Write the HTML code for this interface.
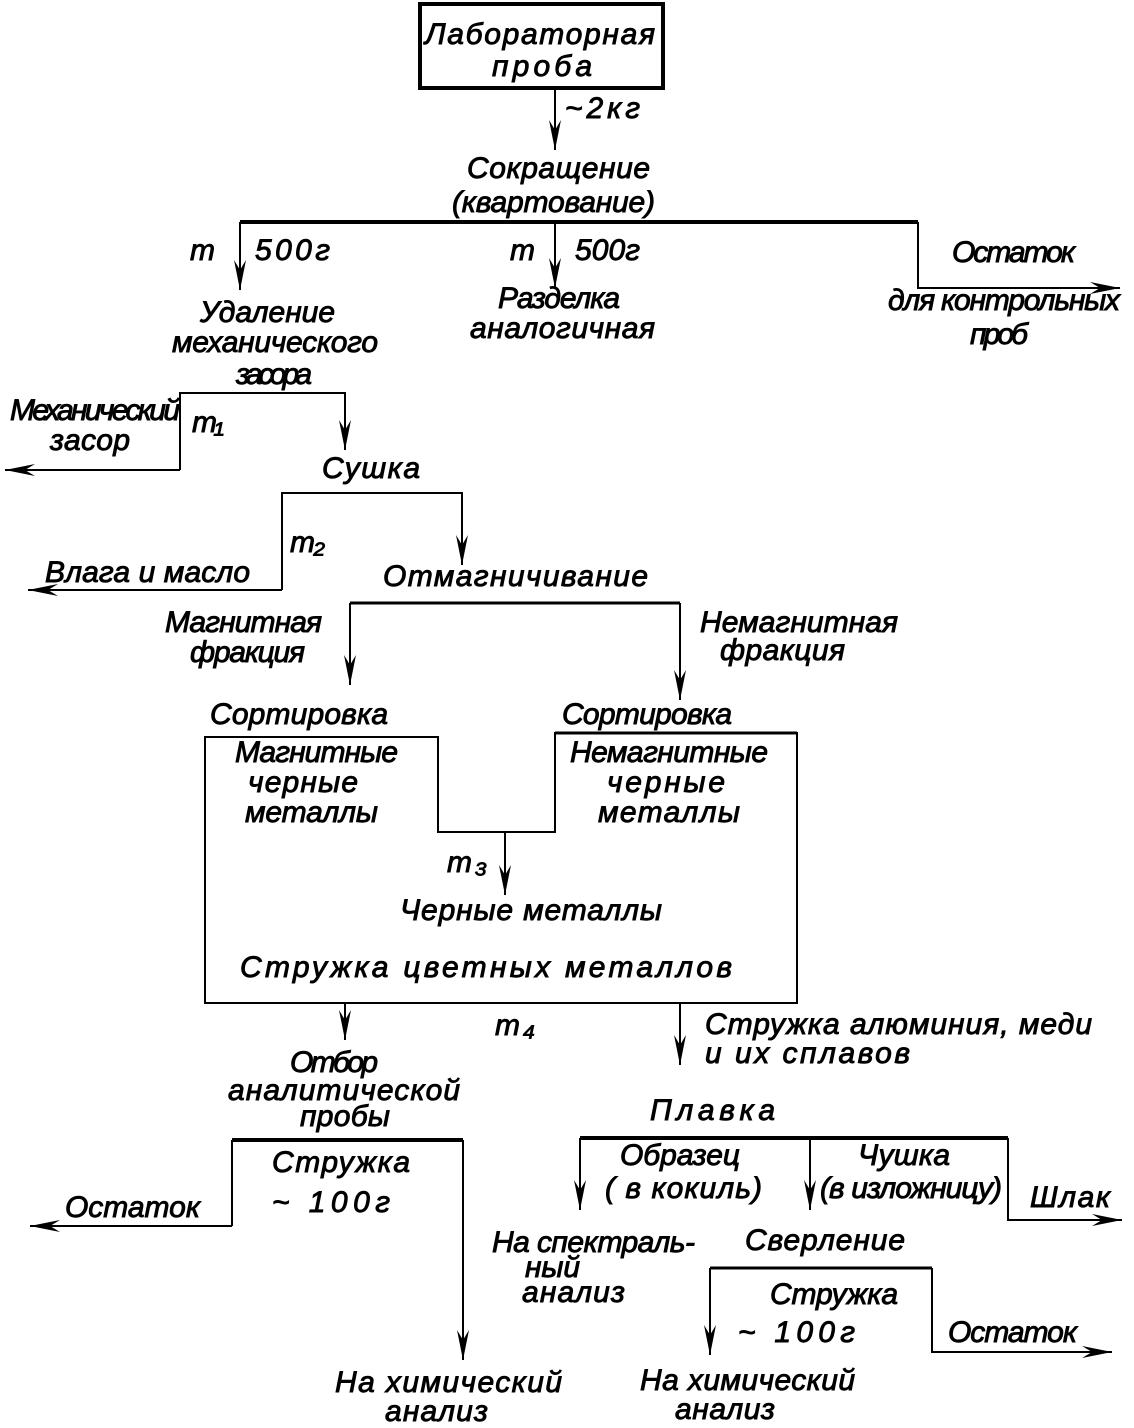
<!DOCTYPE html>
<html><head><meta charset="utf-8"><style>
html,body{margin:0;padding:0;background:#fff;}
svg{display:block;}
text{font-family:"Liberation Sans","DejaVu Sans",sans-serif;font-style:italic;font-size:30px;fill:#000;stroke:#000;stroke-width:0.9;}
</style></head><body>
<svg width="1134" height="1428" viewBox="0 0 1134 1428" xmlns="http://www.w3.org/2000/svg">
<defs>
<marker id="a" markerWidth="12" markerHeight="30" refX="6" refY="30" orient="0" markerUnits="userSpaceOnUse" viewBox="0 0 12 30">
<path d="M0,0 L6,30 L12,0 L6,10 Z" fill="#000"/>
</marker>
<marker id="r" markerWidth="30" markerHeight="12" refX="30" refY="6" orient="0" markerUnits="userSpaceOnUse" viewBox="0 0 30 12">
<path d="M0,0 L30,6 L0,12 L10,6 Z" fill="#000"/>
</marker>
<marker id="l" markerWidth="30" markerHeight="12" refX="0" refY="6" orient="0" markerUnits="userSpaceOnUse" viewBox="0 0 30 12">
<path d="M30,0 L0,6 L30,12 L20,6 Z" fill="#000"/>
</marker>
</defs>
<g fill="none" stroke="#000" stroke-width="2">
<rect x="420" y="4" width="243" height="84" stroke-width="4"/>
<line x1="555" y1="90" x2="555" y2="150" marker-end="url(#a)"/>
<line x1="240" y1="222" x2="918" y2="222" stroke-width="4"/>
<line x1="240" y1="222" x2="240" y2="290" marker-end="url(#a)"/>
<line x1="555" y1="222" x2="555" y2="288" marker-end="url(#a)"/>
<polyline points="918,222 918,288 1120,288" marker-end="url(#r)"/>
<polyline points="180,470 180,393 345,393 345,450" marker-end="url(#a)"/>
<line x1="180" y1="470" x2="5" y2="470" marker-end="url(#l)"/>
<polyline points="282,590 282,493 462,493 462,565" marker-end="url(#a)"/>
<line x1="282" y1="590" x2="28" y2="590" marker-end="url(#l)"/>
<line x1="350" y1="603" x2="680" y2="603" stroke-width="3"/>
<line x1="350" y1="603" x2="350" y2="685" marker-end="url(#a)"/>
<line x1="680" y1="603" x2="680" y2="700" marker-end="url(#a)"/>
<polygon points="205,737 438,737 438,832 555,832 555,733 797,733 797,1003 205,1003"/>
<line x1="555" y1="733" x2="797" y2="733" stroke-width="3"/>
<line x1="505" y1="832" x2="505" y2="895" marker-end="url(#a)"/>
<line x1="345" y1="1003" x2="345" y2="1040" marker-end="url(#a)"/>
<line x1="680" y1="1003" x2="680" y2="1065" marker-end="url(#a)"/>
<line x1="232" y1="1140" x2="463" y2="1140" stroke-width="4"/>
<line x1="463" y1="1140" x2="463" y2="1360" marker-end="url(#a)"/>
<line x1="232" y1="1140" x2="232" y2="1226"/>
<line x1="232" y1="1226" x2="30" y2="1226" marker-end="url(#l)"/>
<line x1="580" y1="1138" x2="1008" y2="1138" stroke-width="4"/>
<line x1="580" y1="1138" x2="580" y2="1210" marker-end="url(#a)"/>
<line x1="810" y1="1138" x2="810" y2="1210" marker-end="url(#a)"/>
<polyline points="1008,1138 1008,1220 1122,1220" marker-end="url(#r)"/>
<line x1="710" y1="1268" x2="932" y2="1268" stroke-width="3"/>
<line x1="710" y1="1268" x2="710" y2="1355" marker-end="url(#a)"/>
<polyline points="932,1268 932,1352 1112,1352" marker-end="url(#r)"/>
</g>
<g lengthAdjust="spacingAndGlyphs">
<text x="425" y="44" textLength="230">Лабораторная</text>
<text x="492" y="76" textLength="100">проба</text>
<text x="565" y="118" textLength="75">~2кг</text>
<text x="467" y="178" textLength="183">Сокращение</text>
<text x="452" y="212" textLength="203">(квартование)</text>
<text x="190" y="260" textLength="24">m</text>
<text x="255" y="260" textLength="75">500г</text>
<text x="510" y="260" textLength="24">m</text>
<text x="575" y="260" textLength="65">500г</text>
<text x="952" y="262" textLength="123">Остаток</text>
<text x="888" y="310" textLength="232">для контрольных</text>
<text x="970" y="344" textLength="58">проб</text>
<text x="200" y="322" textLength="135">Удаление</text>
<text x="172" y="352" textLength="206">механического</text>
<text x="236" y="384" textLength="76">засора</text>
<text x="498" y="308" textLength="122">Разделка</text>
<text x="470" y="338" textLength="185">аналогичная</text>
<text x="10" y="420" textLength="170">Механический</text>
<text x="50" y="450" textLength="80">засор</text>
<text x="192" y="432" textLength="32">m₁</text>
<text x="322" y="478" textLength="98">Сушка</text>
<text x="290" y="552" textLength="35">m₂</text>
<text x="45" y="582" textLength="205">Влага и масло</text>
<text x="383" y="586" textLength="265">Отмагничивание</text>
<text x="165" y="632" textLength="157">Магнитная</text>
<text x="190" y="662" textLength="115">фракция</text>
<text x="700" y="632" textLength="198">Немагнитная</text>
<text x="720" y="660" textLength="125">фракция</text>
<text x="210" y="724" textLength="178">Сортировка</text>
<text x="562" y="724" textLength="170">Сортировка</text>
<text x="235" y="762" textLength="163">Магнитные</text>
<text x="248" y="792" textLength="110">черные</text>
<text x="245" y="822" textLength="133">металлы</text>
<text x="570" y="762" textLength="198">Немагнитные</text>
<text x="607" y="792" textLength="118">черные</text>
<text x="598" y="822" textLength="142">металлы</text>
<text x="447" y="872" textLength="40">m₃</text>
<text x="400" y="920" textLength="262">Черные  металлы</text>
<text x="240" y="977" textLength="492">Стружка  цветных  металлов</text>
<text x="495" y="1035" textLength="40">m₄</text>
<text x="705" y="1034" textLength="387">Стружка алюминия, меди</text>
<text x="705" y="1063" textLength="205">и  их  сплавов</text>
<text x="290" y="1072" textLength="88">Отбор</text>
<text x="228" y="1100" textLength="232">аналитической</text>
<text x="300" y="1126" textLength="90">пробы</text>
<text x="272" y="1172" textLength="138">Стружка</text>
<text x="272" y="1212" textLength="118">~  100г</text>
<text x="65" y="1217" textLength="135">Остаток</text>
<text x="335" y="1392" textLength="227">На  химический</text>
<text x="385" y="1421" textLength="103">анализ</text>
<text x="650" y="1120" textLength="125">Плавка</text>
<text x="620" y="1165" textLength="120">Образец</text>
<text x="605" y="1198" textLength="157">( в кокиль)</text>
<text x="858" y="1165" textLength="92">Чушка</text>
<text x="820" y="1198" textLength="182">(в изложницу)</text>
<text x="1030" y="1207" textLength="80">Шлак</text>
<text x="492" y="1252" textLength="203">На спектраль-</text>
<text x="525" y="1277" textLength="55">ный</text>
<text x="522" y="1302" textLength="103">анализ</text>
<text x="745" y="1250" textLength="160">Сверление</text>
<text x="770" y="1304" textLength="128">Стружка</text>
<text x="738" y="1342" textLength="117">~  100г</text>
<text x="948" y="1342" textLength="129">Остаток</text>
<text x="640" y="1390" textLength="215">На  химический</text>
<text x="675" y="1419" textLength="100">анализ</text>
</g>
</svg>
</body></html>
